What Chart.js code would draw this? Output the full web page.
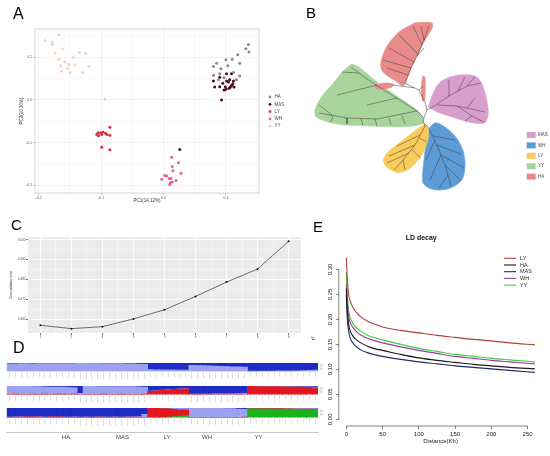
<!DOCTYPE html>
<html>
<head>
<meta charset="utf-8">
<script src="https://cdn.jsdelivr.net/npm/chart.js@4.4.1/dist/chart.umd.min.js"></script>
<style>
  body { margin: 0; background: #fff; }
  #page { position: relative; width: 550px; height: 456px; overflow: hidden; font-family: "Liberation Sans", Arial, sans-serif; }
  .box { position: absolute; }
  .tag { position: absolute; font-size: 16px; line-height: 16px; color: #000; }
</style>
</head>
<body>
<div id="page">
  <div class="box" style="left:0;top:0;width:290px;height:206px"><canvas id="pca"></canvas></div>
  <div class="box" style="left:290px;top:0;width:260px;height:225px"><canvas id="tree"></canvas></div>
  <div class="box" style="left:0;top:232px;width:305px;height:110px"><canvas id="cv"></canvas></div>
  <div class="box" style="left:0;top:360.3px;width:323px;height:22px"><canvas id="k2"></canvas></div>
  <div class="box" style="left:0;top:382.7px;width:323px;height:22.2px"><canvas id="k3"></canvas></div>
  <div class="box" style="left:0;top:404.7px;width:323px;height:36.3px"><canvas id="k4"></canvas></div>
  <div class="box" style="left:300px;top:222px;width:250px;height:234px"><canvas id="ld"></canvas></div>
  <div class="tag" style="left:13px;top:6px">A</div>
  <div class="tag" style="left:306px;top:5px;font-size:15px">B</div>
  <div class="tag" style="left:11px;top:217px;font-size:15px">C</div>
  <div class="tag" style="left:13px;top:340px">D</div>
  <div class="tag" style="left:313px;top:219px;font-size:15px">E</div>
</div>
<script>
const FONT = '"Liberation Sans", Arial, Helvetica, sans-serif';

// ---------- A: PCA ----------
const pcaGroups = ['HA', 'MAS', 'LY', 'WH', 'YY'];
const pcaHA = [[0.136,0.130],[0.132,0.120],[0.137,0.112],[0.119,0.106],[0.122,0.086],[0.110,0.095],[0.100,0.094],[0.085,0.086],[0.080,0.078],[0.092,0.073],[0.103,0.080],[0.112,0.064],[0.090,0.061],[0.080,0.058],[0.088,0.047],[0.097,0.052],[0.117,0.047],[0.122,0.056]];
const pcaMAS = [[0.080,0.044],[0.082,0.030],[0.090,0.031],[0.095,0.039],[0.099,0.031],[0.101,0.044],[0.104,0.042],[0.106,0.047],[0.109,0.034],[0.111,0.038],[0.113,0.030],[0.105,0.027],[0.097,0.023],[0.100,0.025],[0.107,0.030],[0.093,0.000],[0.109,0.061],[0.101,0.061],[0.090,0.053],[0.112,0.044],[0.026,-0.116]];
const pcaLY = [[-0.105,-0.077],[-0.104,-0.084],[-0.101,-0.077],[-0.097,-0.075],[-0.093,-0.078],[-0.091,-0.081],[-0.099,-0.081],[-0.086,-0.064],[-0.086,-0.083],[-0.099,-0.111],[-0.086,-0.117],[-0.107,-0.081]];
const pcaWH = [[0.013,-0.134],[0.024,-0.147],[0.014,-0.156],[0.015,-0.166],[0.028,-0.172],[0.002,-0.177],[0.005,-0.178],[0.009,-0.184],[0.012,-0.184],[0.020,-0.189],[-0.003,-0.186],[0.011,-0.194],[0.014,-0.192],[0.010,-0.198]];
const pcaYY = [[-0.190,0.139],[-0.179,0.135],[-0.178,0.130],[-0.168,0.152],[-0.162,0.119],[-0.174,0.109],[-0.168,0.095],[-0.158,0.089],[-0.165,0.080],[-0.152,0.083],[-0.145,0.099],[-0.135,0.111],[-0.125,0.109],[-0.120,0.078],[-0.142,0.081],[-0.154,0.073],[-0.164,0.067],[-0.150,0.064],[-0.130,0.064],[-0.094,0.002]];
const pcaXMajor = [-0.2, -0.1, 0, 0.1];
const pcaXMinor = [-0.15, -0.05, 0.05, 0.15];
const pcaYMajor = [-0.2, -0.1, 0, 0.1];
const pcaYMinor = [-0.15, -0.05, 0.05, 0.15];
const pcaColors = ['#8f8790', '#4b0c22', '#d9303e', '#ee5b9b', '#f4d2c2'];

// ---------- B: tree (layout units, root at 0,0) ----------
const treeHulls = {
  HA: [[-12,87.3],[4.7,87.3],[5.7,83.3],[-2,70],[-13.7,46.7],[-22,26.7],[-24.3,24],[-30.3,28.3],[-44.3,38.3],[-46.3,46.7],[-40.3,63.3],[-28,78]],
  HA2: [[-53,24],[-45.3,26.7],[-33.7,26],[-35.3,22.7],[-49.7,20.7]],
  HA3: [[-4.3,34],[-2,32.7],[-2.3,10],[-4.3,8.7],[-5.7,23.3]],
  MAS: [[1.3,3.3],[9.7,24],[19.7,31.7],[33,35],[48,34],[54.7,26.7],[59.7,10],[61.3,-3.3],[58,-12.7],[44.7,-12.7],[26.3,-7.3],[9.7,-1.7]],
  YY: [[-75.3,46],[-68.7,43.3],[-50.3,28.3],[-27,11.7],[-10.3,0],[-3.7,-8.3],[-5.3,-14],[-23.7,-16.7],[-57,-16],[-90.3,-14],[-110.3,-7.3],[-112,0],[-105.3,13.3],[-93.7,26.7],[-83.7,39.3]],
  LY: [[-1.3,-14],[1,-18.3],[1,-30],[-5.3,-45],[-17,-58.3],[-28.7,-62.7],[-38.7,-58.3],[-43.7,-50.7],[-38.7,-41.7],[-23.7,-30],[-8.7,-18.3]],
  WH: [[3,-16.7],[9,-12.7],[19.7,-18.3],[29.7,-28.3],[36.3,-41.7],[38,-56.7],[34.7,-70],[23,-78.3],[9.7,-80],[-0.3,-76.7],[-4.3,-71.7],[-3,-50],[-0.3,-30]]
};
const treeBranches = [
  [[-22,26.7],[-8,20],[-2,8],[0,0],[-3,-8]],
  [[-8,20],[-4,24]], [[-12,22],[-34,25]], [[0,0],[4,2]],
  [[-3,-8],[-4,-12],[1,-17]], [[-4,-12],[-2,-16]], [[-3,-8],[-10,-1]],
  [[-22,26.7],[-16,42],[-9,56],[-3,70],[2,84]],
  [[-19,35],[-40,42]], [[-16,42],[-44,50]], [[-13,48],[-38,62]], [[-9,56],[-28,75]], [[-5,65],[-14,84]], [[-3,70],[-6,84]], [[-10,54],[-3,62]],
  [[4,2],[22,14],[40,24],[54,27]], [[10,5],[30,4],[58,-2]], [[30,4],[45,-6],[57,-12]], [[22,14],[22,30]], [[31,19],[38,33]], [[40,24],[48,33]], [[40,2],[48,12]], [[45,-6],[38,-11]],
  [[1,-17],[10,-35],[18,-55],[24,-76]], [[6,-26],[28,-30]], [[10,-35],[34,-44]], [[14,-45],[37,-58]], [[18,-55],[33,-70]], [[8,-30],[-1,-50]], [[14,-45],[3,-70]], [[21,-65],[12,-78]],
  [[-2,-16],[-12,-35],[-24,-50],[-33,-60]], [[-7,-25],[-30,-36]], [[-12,-35],[-38,-46]], [[-18,-43],[-40,-53]], [[-24,-50],[-22,-60]], [[-8,-28],[0,-32]], [[-15,-40],[-6,-48]],
  [[-10,-1],[-40,18],[-60,31],[-76,43]], [[-10,-1],[-50,-9],[-80,-8],[-108,-3]],
  [[-30,12],[-60,5]], [[-50,25],[-90,15]], [[-68,37],[-85,38]],
  [[-25,-6],[-22,-14]], [[-38,-8],[-36,-15]], [[-52,-9],[-50,-16]], [[-66,-9],[-64,-15]], [[-80,-8],[-80,-14]], [[-94,-6],[-96,-12]], [[-95,-5],[-108,5]]
];
const treeLegend = ['MAS', 'WH', 'LY', 'YY', 'HA'];
const treeColors = { HA: '#ea8b8b', HA2: '#ea8b8b', HA3: '#ea8b8b', MAS: '#d89fcc', YY: '#a8d49c', LY: '#f9cb5a', WH: '#5b9bd6' };

// ---------- C: cross-validation ----------
const cvK = [1, 2, 3, 4, 5, 6, 7, 8, 9];
const cvError = [0.4570, 0.4553, 0.4563, 0.4602, 0.4648, 0.4715, 0.4787, 0.4853, 0.4992];
const cvXMajor = [1, 2, 3, 4, 5, 6, 7, 8, 9];
const cvXMinor = [1.5, 2.5, 3.5, 4.5, 5.5, 6.5, 7.5, 8.5];
const cvYMajor = [0.46, 0.47, 0.48, 0.49, 0.50];
const cvYMinor = [0.455, 0.465, 0.475, 0.485, 0.495];

// ---------- D: structure ----------
const structGroups = ['HA', 'MAS', 'LY', 'WH', 'YY'];
const structCounts = [12, 12, 7, 10, 12];
const structYTicks = [0, 0.5, 1];
const k2Light = [
  0.90,0.91,0.92,0.92,0.91,0.92,0.93,0.92,0.93,0.92,0.93,0.92,
  0.95,0.95,0.94,0.94,0.93,0.93,0.92,0.92,0.91,0.90,0.88,0.85,
  0.22,0.20,0.20,0.18,0.18,0.16,0.15,
  0.72,0.70,0.68,0.65,0.63,0.60,0.58,0.55,0.53,0.50,
  0.04,0.04,0.05,0.05,0.05,0.06,0.06,0.07,0.08,0.10,0.12,0.15];
const k2Dark = [
  0.10,0.09,0.08,0.08,0.09,0.08,0.07,0.08,0.07,0.08,0.07,0.08,
  0.05,0.05,0.06,0.06,0.07,0.07,0.08,0.08,0.09,0.10,0.12,0.15,
  0.78,0.80,0.80,0.82,0.82,0.84,0.85,
  0.28,0.30,0.32,0.35,0.37,0.40,0.42,0.45,0.47,0.50,
  0.96,0.96,0.95,0.95,0.95,0.94,0.94,0.93,0.92,0.90,0.88,0.85];
const k3Red = [
  0.03,0.05,0.02,0.04,0.06,0.03,0.05,0.04,0.06,0.05,0.04,0.06,
  0.00,0.03,0.04,0.03,0.05,0.04,0.03,0.05,0.04,0.03,0.04,0.05,
  0.38,0.44,0.50,0.55,0.60,0.64,0.68,
  0.02,0.02,0.01,0.01,0.01,0.01,0.01,0.01,0.02,0.03,
  0.95,0.94,0.93,0.92,0.92,0.90,0.90,0.88,0.87,0.86,0.84,0.80];
const k3Light = [
  0.95,0.93,0.95,0.92,0.88,0.89,0.85,0.84,0.82,0.81,0.80,0.76,
  0.15,0.92,0.91,0.91,0.89,0.90,0.90,0.88,0.88,0.89,0.86,0.83,
  0.04,0.03,0.02,0.02,0.02,0.02,0.02,
  0.05,0.05,0.06,0.06,0.07,0.07,0.08,0.09,0.10,0.12,
  0.02,0.02,0.03,0.03,0.02,0.03,0.03,0.04,0.04,0.04,0.05,0.06];
const k3Dark = [
  0.02,0.02,0.03,0.04,0.06,0.08,0.10,0.12,0.12,0.14,0.16,0.18,
  0.85,0.05,0.05,0.06,0.06,0.06,0.07,0.07,0.08,0.08,0.10,0.12,
  0.58,0.53,0.48,0.43,0.38,0.34,0.30,
  0.93,0.93,0.93,0.93,0.92,0.92,0.91,0.90,0.88,0.85,
  0.03,0.04,0.04,0.05,0.06,0.07,0.07,0.08,0.09,0.10,0.11,0.14];
const k4Green = [
  0.01,0.02,0.01,0.02,0.03,0.02,0.01,0.02,0.03,0.02,0.01,0.02,
  0.01,0.02,0.01,0.01,0.02,0.01,0.02,0.01,0.02,0.01,0.03,0.01,
  0.01,0.02,0.03,0.05,0.10,0.15,0.20,
  0.01,0.01,0.01,0.01,0.01,0.01,0.01,0.01,0.01,0.01,
  0.92,0.92,0.90,0.91,0.90,0.89,0.90,0.88,0.87,0.86,0.84,0.78];
const k4Red = [
  0.02,0.03,0.04,0.05,0.04,0.06,0.03,0.05,0.04,0.05,0.03,0.04,
  0.02,0.03,0.02,0.04,0.03,0.02,0.03,0.02,0.03,0.04,0.02,0.03,
  0.96,0.94,0.92,0.88,0.75,0.65,0.60,
  0.01,0.01,0.01,0.01,0.01,0.01,0.02,0.02,0.03,0.05,
  0.02,0.03,0.04,0.02,0.03,0.04,0.02,0.04,0.03,0.04,0.05,0.06];
const k4Light = [
  0.02,0.02,0.02,0.02,0.02,0.02,0.02,0.02,0.02,0.02,0.02,0.02,
  0.02,0.02,0.02,0.02,0.02,0.02,0.02,0.02,0.03,0.03,0.05,0.30,
  0.02,0.02,0.03,0.05,0.10,0.15,0.15,
  0.96,0.96,0.96,0.95,0.95,0.94,0.92,0.90,0.84,0.79,
  0.04,0.03,0.04,0.05,0.04,0.04,0.05,0.05,0.06,0.06,0.07,0.10];
const k4Dark = [
  0.95,0.93,0.93,0.91,0.91,0.90,0.94,0.91,0.91,0.91,0.94,0.92,
  0.95,0.93,0.95,0.93,0.93,0.95,0.93,0.95,0.92,0.92,0.90,0.66,
  0.01,0.02,0.02,0.02,0.05,0.05,0.05,
  0.02,0.02,0.02,0.03,0.03,0.04,0.05,0.07,0.12,0.15,
  0.02,0.02,0.02,0.02,0.03,0.03,0.03,0.03,0.04,0.04,0.04,0.06];
const structColors = { light: '#9ca2f0', dark: '#1d2cc6', red: '#e3171f', green: '#19b21b' };

// ---------- E: LD decay ----------
const ldDist = [0, 1, 3, 5, 10, 15, 20, 30, 40, 50, 75, 100, 125, 150, 175, 200, 225, 260];
const ldLY  = [0.324,0.290,0.252,0.238,0.222,0.212,0.205,0.196,0.190,0.185,0.178,0.173,0.168,0.164,0.160,0.157,0.153,0.149];
const ldHA  = [0.262,0.225,0.192,0.178,0.165,0.158,0.153,0.146,0.141,0.138,0.130,0.123,0.118,0.114,0.110,0.107,0.104,0.101];
const ldMAS = [0.250,0.210,0.178,0.164,0.151,0.144,0.139,0.133,0.129,0.126,0.120,0.115,0.111,0.107,0.104,0.101,0.098,0.094];
const ldWH  = [0.270,0.240,0.208,0.195,0.182,0.174,0.169,0.162,0.157,0.153,0.145,0.138,0.132,0.126,0.122,0.118,0.115,0.111];
const ldYY  = [0.295,0.255,0.220,0.205,0.190,0.182,0.176,0.168,0.163,0.159,0.150,0.142,0.136,0.130,0.126,0.122,0.119,0.115];
const ldXTicks = [0, 50, 100, 150, 200, 250];
const ldYTicks = [0, 0.05, 0.10, 0.15, 0.20, 0.25, 0.30];

Chart.defaults.font.family = FONT;
Chart.defaults.animation = false;
Chart.defaults.maintainAspectRatio = false;
Chart.defaults.plugins.legend.display = false;
Chart.defaults.plugins.tooltip.enabled = false;

const toTicks = (...lists) => s => { s.ticks = [].concat(...lists).sort((a, b) => a - b).map(v => ({ value: v })); };

// panel background / border
const framePlugin = {
  id: 'frame',
  beforeDraw(chart, args, o) {
    if (!o.fill) return;
    const { ctx, chartArea: a } = chart;
    ctx.save(); ctx.fillStyle = o.fill; ctx.fillRect(a.left, a.top, a.width, a.height); ctx.restore();
  },
  afterDraw(chart, args, o) {
    if (!o.stroke) return;
    const { ctx, chartArea: a } = chart;
    ctx.save(); ctx.strokeStyle = o.stroke; ctx.lineWidth = 0.6;
    ctx.strokeRect(a.left, a.top, a.width, a.height); ctx.restore();
  }
};

// small legend drawn at fixed spot
const keyPlugin = {
  id: 'key',
  afterDraw(chart, args, o) {
    if (!o.items) return;
    const c = chart.ctx;
    c.save();
    c.font = o.size + 'px ' + FONT;
    c.textBaseline = 'middle';
    o.items.forEach((it, i) => {
      const y = o.y + i * o.dy;
      c.fillStyle = it.color; c.strokeStyle = it.color;
      if (o.kind === 'point') {
        c.beginPath(); c.arc(o.x, y, o.r, 0, Math.PI * 2); c.fill();
      } else if (o.kind === 'line') {
        c.lineWidth = 1.1; c.beginPath(); c.moveTo(o.x, y); c.lineTo(o.x + o.len, y); c.stroke();
      } else {
        c.fillRect(o.x, y - o.h / 2, o.w, o.h);
      }
      c.fillStyle = o.color;
      c.fillText(it.label, o.textX, y);
    });
    c.restore();
  }
};

// R style axes: lines only over the tick span, rotated y labels
const rAxisPlugin = {
  id: 'rAxis',
  afterDraw(chart) {
    const { ctx, chartArea: a, scales: { x, y } } = chart;
    const xt = x.ticks, yt = y.ticks;
    ctx.save();
    ctx.strokeStyle = '#333'; ctx.lineWidth = 0.6;
    ctx.beginPath();
    ctx.moveTo(x.getPixelForValue(xt[0].value), a.bottom);
    ctx.lineTo(x.getPixelForValue(xt[xt.length - 1].value), a.bottom);
    ctx.moveTo(a.left, y.getPixelForValue(yt[0].value));
    ctx.lineTo(a.left, y.getPixelForValue(yt[yt.length - 1].value));
    ctx.stroke();
    ctx.fillStyle = '#222'; ctx.font = '6px ' + FONT;
    ctx.textAlign = 'center'; ctx.textBaseline = 'middle';
    yt.forEach(t => {
      ctx.save();
      ctx.translate(a.left - 8, y.getPixelForValue(t.value));
      ctx.rotate(-Math.PI / 2);
      ctx.fillText(t.value.toFixed(2), 0, 0);
      ctx.restore();
    });
    ctx.restore();
  }
};

// ---------- A ----------
const isIn = (list, v) => list.some(m => Math.abs(m - v) < 1e-9);
new Chart('pca', {
  type: 'scatter',
  data: {
    datasets: [pcaHA, pcaMAS, pcaLY, pcaWH, pcaYY].map((pts, i) => ({
      label: pcaGroups[i],
      data: pts.map(([x, y]) => ({ x, y })),
      backgroundColor: pcaColors[i],
      borderWidth: 0,
      pointRadius: 1.5
    }))
  },
  options: {
    layout: { padding: { left: 0, top: 29, right: 31, bottom: 0 } },
    plugins: {
      frame: { stroke: '#b8b8b8' },
      key: { items: pcaGroups.map((g, i) => ({ label: g, color: pcaColors[i] })), kind: 'point', x: 270, y: 97, dy: 7.3, r: 1.4, textX: 274.5, size: 4.5, color: '#444' }
    },
    scales: {
      x: {
        min: -0.206, max: 0.153,
        afterBuildTicks: toTicks(pcaXMajor, pcaXMinor),
        ticks: { font: { size: 3.5 }, color: '#555', padding: 1, callback: v => isIn(pcaXMajor, v) ? v.toFixed(1) : '' },
        grid: { color: c => isIn(pcaXMajor, c.tick.value) ? '#e4e4e4' : '#f3f3f3', lineWidth: 0.5, tickLength: 2, tickColor: c => isIn(pcaXMajor, c.tick.value) ? '#888' : 'transparent' },
        border: { display: false },
        title: { display: true, text: 'PC1(14.12%)', font: { size: 4.5 }, color: '#333', padding: { top: 0, bottom: 3 } },
        afterFit: s => { s.height = 13; }
      },
      y: {
        min: -0.218, max: 0.166,
        afterBuildTicks: toTicks(pcaYMajor, pcaYMinor),
        ticks: { font: { size: 3.5 }, color: '#555', padding: 1, callback: v => isIn(pcaYMajor, v) ? v.toFixed(1) : '' },
        grid: { color: c => isIn(pcaYMajor, c.tick.value) ? '#e4e4e4' : '#f3f3f3', lineWidth: 0.5, tickLength: 2, tickColor: c => isIn(pcaYMajor, c.tick.value) ? '#888' : 'transparent' },
        border: { display: false },
        title: { display: true, text: 'PC2(10.30%)', font: { size: 4.5 }, color: '#333', padding: { top: 19.3, bottom: 0 } },
        afterFit: s => { s.width = 35; }
      }
    }
  },
  plugins: [framePlugin, keyPlugin]
});

// ---------- B ----------
const closeRing = pts => pts.concat([pts[0]]).map(([x, y]) => ({ x, y }));
new Chart('tree', {
  type: 'scatter',
  data: {
    datasets: [
      ...treeBranches.map(b => ({
        data: b.map(([x, y]) => ({ x, y })),
        showLine: true, borderColor: '#3a3a3a', borderWidth: 0.5, pointRadius: 0, fill: false, order: 0
      })),
      ...Object.keys(treeHulls).map(k => ({
        label: k,
        data: closeRing(treeHulls[k]),
        showLine: true, fill: 'shape', tension: 0.3,
        backgroundColor: treeColors[k], borderColor: treeColors[k], borderWidth: 0.6, pointRadius: 0, order: 1
      }))
    ]
  },
  options: {
    layout: { padding: 0 },
    plugins: {
      key: { items: treeLegend.map(g => ({ label: g, color: treeColors[g] })), kind: 'box', x: 236.7, w: 9, h: 6, y: 135, dy: 10.4, textX: 248, size: 4.5, color: '#444' }
    },
    scales: {
      x: { type: 'linear', min: -137, max: 123, display: false },
      y: { type: 'linear', min: -115, max: 110, display: false }
    }
  },
  plugins: [keyPlugin]
});

// ---------- C ----------
new Chart('cv', {
  type: 'line',
  data: {
    datasets: [{
      data: cvK.map((k, i) => ({ x: k, y: cvError[i] })),
      borderColor: '#4a4a4a', borderWidth: 0.8, pointRadius: 1, pointBackgroundColor: '#111', pointBorderWidth: 0, tension: 0
    }]
  },
  options: {
    layout: { padding: { left: 0, top: 5, right: 4, bottom: 0 } },
    plugins: { frame: { fill: '#ebebeb' } },
    scales: {
      x: {
        type: 'linear', min: 0.6, max: 9.4,
        afterBuildTicks: toTicks(cvXMajor, cvXMinor),
        ticks: { font: { size: 3 }, color: '#4d4d4d', padding: 0.5, callback: v => isIn(cvXMajor, v) ? String(v) : '' },
        grid: { color: '#fff', lineWidth: c => isIn(cvXMajor, c.tick.value) ? 0.8 : 0.4, tickLength: 2, tickColor: c => isIn(cvXMajor, c.tick.value) ? '#555' : 'transparent' },
        border: { display: false },
        afterFit: s => { s.height = 9; }
      },
      y: {
        min: 0.4531, max: 0.5014,
        afterBuildTicks: toTicks(cvYMajor, cvYMinor),
        ticks: { font: { size: 3 }, color: '#4d4d4d', padding: 0.5, callback: v => isIn(cvYMajor, v) ? v.toFixed(3) : '' },
        grid: { color: '#fff', lineWidth: c => isIn(cvYMajor, c.tick.value) ? 0.8 : 0.4, tickLength: 2, tickColor: c => isIn(cvYMajor, c.tick.value) ? '#555' : 'transparent' },
        border: { display: false },
        title: { display: true, text: 'Cross-validation error', font: { size: 3 }, color: '#333', padding: { top: 9, bottom: 0 } },
        afterFit: s => { s.width = 28; }
      }
    }
  },
  plugins: [framePlugin]
});

// ---------- D ----------
const structLabels = [];
const groupStarts = [];
const groupCenters = [];
structGroups.forEach((g, gi) => {
  groupStarts.push(structLabels.length);
  groupCenters.push(structLabels.length + (structCounts[gi] - 1) / 2);
  for (let k = 1; k <= structCounts[gi]; k++) structLabels.push(g + String(k).padStart(2, '0'));
});

function structureChart(id, layers, kText, sampleHeight, withGroups) {
  const scales = {
    x: {
      stacked: true, z: 1,
      grid: { offset: true, drawTicks: false, lineWidth: 0.7, color: c => (c.index > 0 && groupStarts.includes(c.index)) ? '#fff' : 'transparent' },
      border: { display: false },
      ticks: { autoSkip: false, minRotation: 90, maxRotation: 90, padding: 1, color: '#a0a0a0', font: { size: 2.2 } },
      afterFit: s => { s.height = sampleHeight; }
    },
    y: {
      stacked: true, min: 0, max: 1,
      afterBuildTicks: toTicks(structYTicks),
      grid: { display: false }, border: { display: false },
      ticks: { font: { size: 2.4 }, color: '#999', padding: 0.5 },
      afterFit: s => { s.width = 6.7; }
    },
    k: {
      position: 'right', display: true,
      grid: { display: false }, border: { display: false }, ticks: { display: false },
      title: { display: true, text: kText, font: { size: 3 }, color: '#999', padding: 0 },
      afterFit: s => { s.width = 5; }
    }
  };
  if (withGroups) {
    scales.g = {
      type: 'linear', position: 'bottom', weight: 1,
      min: -0.5, max: structLabels.length - 0.5,
      afterBuildTicks: toTicks(groupCenters),
      ticks: { autoSkip: false, font: { size: 6 }, color: '#444', padding: 1.5, callback: (v, i) => structGroups[i] },
      grid: { drawOnChartArea: false, drawTicks: false },
      border: { display: true, color: '#b0b0b0', width: 0.7 },
      afterFit: s => { s.height = 9; }
    };
  }
  new Chart(id, {
    type: 'bar',
    data: {
      labels: structLabels,
      datasets: layers.map(([vals, color]) => ({
        data: vals, backgroundColor: color, borderWidth: 0, barPercentage: 1, categoryPercentage: 1
      }))
    },
    options: {
      layout: { padding: { left: 0, top: 3, right: 0, bottom: 0 } },
      scales
    }
  });
}

structureChart('k2', [[k2Light, structColors.light], [k2Dark, structColors.dark]], 'K=2', 10.6, false);
structureChart('k3', [[k3Red, structColors.red], [k3Light, structColors.light], [k3Dark, structColors.dark]], 'K=3', 10.6, false);
structureChart('k4', [[k4Green, structColors.green], [k4Red, structColors.red], [k4Light, structColors.light], [k4Dark, structColors.dark]], 'K=4', 14.7, true);

// ---------- E ----------
const ldSeries = [['LY', ldLY, '#b33b3b'], ['HA', ldHA, '#1a1a1a'], ['MAS', ldMAS, '#1e2a66'], ['WH', ldWH, '#9b3d9b'], ['YY', ldYY, '#3ccc3c']];
new Chart('ld', {
  type: 'line',
  data: {
    datasets: ldSeries.map(([name, vals, color]) => ({
      label: name,
      data: ldDist.map((d, i) => ({ x: d, y: vals[i] })),
      borderColor: color, borderWidth: 1.1, pointRadius: 0, cubicInterpolationMode: 'monotone'
    }))
  },
  options: {
    layout: { padding: { left: 0, top: 0, right: 7.6, bottom: 0 } },
    plugins: {
      title: { display: true, text: 'LD decay', font: { size: 7, weight: 'bold' }, color: '#111', padding: { top: 12, bottom: 8.6 } },
      key: { items: ldSeries.map(([name, , color]) => ({ label: name, color })), kind: 'line', x: 204, len: 12, y: 36.3, dy: 6.7, textX: 220, size: 5.5, color: '#222' }
    },
    scales: {
      x: {
        type: 'linear', min: -10.4, max: 270.4,
        afterBuildTicks: toTicks(ldXTicks),
        ticks: { font: { size: 6 }, color: '#222', padding: 2 },
        grid: { drawOnChartArea: false, tickLength: 3, color: '#333', lineWidth: 0.6 },
        border: { display: false },
        title: { display: true, text: 'Distance(Kb)', font: { size: 6 }, color: '#222', padding: { top: 0, bottom: 11 } },
        afterFit: s => { s.height = 30; }
      },
      y: {
        min: -0.0134, max: 0.337,
        afterBuildTicks: toTicks(ldYTicks),
        ticks: { display: false },
        grid: { drawOnChartArea: false, tickLength: 3, color: '#333', lineWidth: 0.6 },
        border: { display: false },
        title: { display: true, text: 'r²', font: { size: 6 }, color: '#222', padding: { top: 9.4, bottom: 0 } },
        afterFit: s => { s.width = 38.8; }
      }
    }
  },
  plugins: [keyPlugin, rAxisPlugin]
});
</script>
</body>
</html>
